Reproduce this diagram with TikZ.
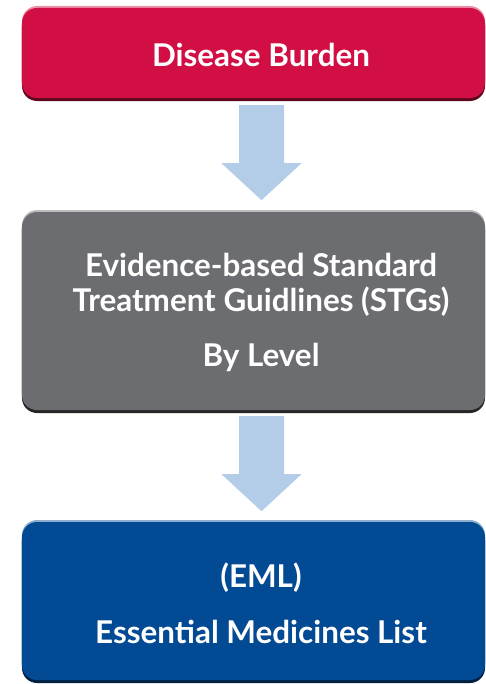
\documentclass[tikz,border=0pt]{standalone}
\usepackage{fontspec}
\setmainfont{Lato}
\usetikzlibrary{calc}

\definecolor{burdenred}{HTML}{D20F45}
\definecolor{stggray}{HTML}{6C6D70}
\definecolor{emlblue}{HTML}{034A94}
\definecolor{flowblue}{HTML}{B3CDE8}

\begin{document}
\begin{tikzpicture}[x=1bp, y=-1bp,
  box/.style={rounded corners=15bp, minimum width=463bp, inner sep=0pt},
  redbox/.style={box, fill=burdenred,
    preaction={fill=burdenred!45!white, transform canvas={yshift=2bp}},
    preaction={fill=burdenred!45!black, transform canvas={yshift=-3bp}}},
  graybox/.style={box, fill=stggray,
    preaction={fill=stggray!45!white, transform canvas={yshift=2bp}},
    preaction={fill=stggray!35!black, transform canvas={yshift=-3bp}}},
  bluebox/.style={box, fill=emlblue,
    preaction={fill=emlblue!45!white, transform canvas={yshift=2bp}},
    preaction={fill=emlblue!45!black, transform canvas={yshift=-3bp}}},
  txt/.style={text=white, font=\fontsize{31.5}{35}\selectfont\bfseries, align=center},
  flow/.style={fill=flowblue}
]
  \useasboundingbox (0,0) rectangle (486,684);

  % the three boxes
  \node[redbox, minimum height=90bp] (burden) at (253.5,53) {};
  \node[graybox, minimum height=198bp] (stg) at (253.5,311) {};
  \node[bluebox, minimum height=158bp] (eml) at (253.5,601) {};

  % texts, centred a little right of the boxes
  \node[txt] (burdenText) at (261,55) {Disease Burden};
  \node[txt] (stgText) at (261,285) {Evidence-based Standard\\Treatment Guidlines (STGs)};
  \node[txt] (levelText) at (261,357) {By Level};
  \node[txt] (emlText) at (261,578) {(EML)};
  \node[txt] (emlName) at (261,632) {Essential Medicines List};

  % block arrows between the boxes
  \coordinate (a1) at ($(burden.south)+(8,7)$);
  \coordinate (a2) at ($(stg.south)+(8,6)$);
  \foreach \a in {a1,a2}
    \fill[flow] (\a) ++(-22.5,0) -- ++(45,0) -- ++(0,58) -- ++(17.5,0)
      -- ++(-40,37) -- ++(-40,-37) -- ++(17.5,0) -- cycle;
\end{tikzpicture}
\end{document}
